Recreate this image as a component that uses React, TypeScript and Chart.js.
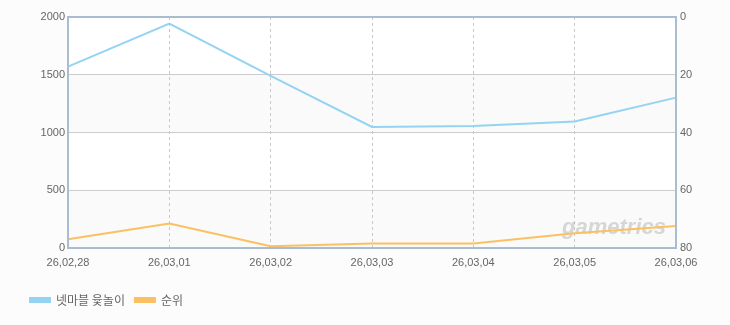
import React, { useEffect, useRef } from "react";
import { Chart, registerables } from "chart.js";

Chart.register(...registerables);

const categories = ["26,02,28", "26,03,01", "26,03,02", "26,03,03", "26,03,04", "26,03,05", "26,03,06"];
const popularity = [1570, 1942, 1490, 1048, 1057, 1095, 1302];
const rank = [77, 71.5, 79.4, 78.4, 78.4, 74.9, 72.4];
const leftTicks = [0, 500, 1000, 1500, 2000];
const rightTicks = [0, 20, 40, 60, 80];

const bgPlugin = {
  id: "bgPlugin",
  beforeDraw(chart: any) {
    const { ctx, width, height, chartArea } = chart;
    ctx.save();
    ctx.fillStyle = "#fcfcfc";
    ctx.fillRect(0, 0, width, height);
    const y = chart.scales.y;
    for (let i = 0; i < leftTicks.length - 1; i++) {
      const top = y.getPixelForValue(leftTicks[i + 1]);
      const bot = y.getPixelForValue(leftTicks[i]);
      ctx.fillStyle = i % 2 === 1 ? "#ffffff" : "#fafafa";
      if (i === leftTicks.length - 2) ctx.fillStyle = "#ffffff";
      ctx.fillRect(chartArea.left, top, chartArea.right - chartArea.left, bot - top);
    }
    ctx.restore();
  },
  beforeDatasetsDraw(chart: any) {
    const { ctx, chartArea } = chart;
    ctx.save();
    ctx.font = "italic bold 22px 'Liberation Sans'";
    ctx.fillStyle = "rgba(160,160,160,0.4)";
    ctx.textAlign = "right";
    ctx.textBaseline = "alphabetic";
    ctx.fillText("gametrics", chartArea.right - 10, chartArea.bottom - 14);
    ctx.restore();
  },
  afterDatasetsDraw(chart: any) {
    const { ctx, chartArea } = chart;
    ctx.save();
    ctx.strokeStyle = "#aabccf";
    ctx.lineWidth = 2;
    ctx.strokeRect(chartArea.left, chartArea.top, chartArea.right - chartArea.left, chartArea.bottom - chartArea.top);
    ctx.restore();
  },
};

export default function App() {
  const ref = useRef<HTMLCanvasElement>(null);
  useEffect(() => {
    if (!ref.current) return;
    const tickFont = { family: "'Liberation Sans', Arial, sans-serif", size: 11 };
    const chart = new Chart(ref.current, {
      type: "line",
      data: {
        labels: categories,
        datasets: [
          {
            label: "넷마블 윷놀이",
            data: popularity,
            borderColor: "#94d3f2",
            backgroundColor: "#94d3f2",
            borderWidth: 2,
            pointRadius: 0,
            tension: 0,
            yAxisID: "y",
          },
          {
            label: "순위",
            data: rank,
            borderColor: "#fbc062",
            backgroundColor: "#fbc062",
            borderWidth: 2,
            pointRadius: 0,
            tension: 0,
            yAxisID: "y1",
          },
        ],
      },
      options: {
        animation: false,
        responsive: false,
        layout: { padding: { left: 20, top: 17, right: 0, bottom: 9 } },
        plugins: {
          tooltip: { enabled: false },
          legend: {
            position: "bottom",
            align: "start",
            labels: {
              boxWidth: 20,
              boxHeight: 4,
              padding: 10,
              color: "#666",
              font: { family: "'Noto Sans CJK KR', sans-serif", size: 12 },
            },
          },
        },
        scales: {
          x: {
            type: "category",
            offset: false,
            grid: {
              color: "#c8c8c8",
              drawTicks: false,
            },
            border: { display: false, dash: [3, 3] },
            ticks: { color: "#666", font: tickFont, padding: 8, maxRotation: 0, autoSkip: false },
            afterFit(scale: any) {
              scale.height = 36;
            },
          },
          y: {
            position: "left",
            min: 0,
            max: 2000,
            ticks: {
              stepSize: 500,
              color: "#666",
              font: tickFont,
              padding: 3,
              callback: (v: any) => String(v),
            },
            grid: { color: "#cccccc", drawTicks: false },
            border: { display: false },
            afterFit(scale: any) {
              scale.width = 48;
            },
          },
          y1: {
            position: "right",
            reverse: true,
            min: 0,
            max: 80,
            afterBuildTicks(scale: any) {
              scale.ticks = rightTicks.map((v) => ({ value: v }));
            },
            ticks: { color: "#666", font: tickFont, padding: 4, callback: (v: any) => String(v) },
            grid: { display: false, drawTicks: false },
            border: { display: false },
            afterFit(scale: any) {
              scale.width = 54;
            },
          },
        },
      } as any,
      plugins: [bgPlugin],
    });
    return () => chart.destroy();
  }, []);
  return (
    <div style={{ position: "fixed", left: 0, top: 0, width: 730, height: 325 }}>
      <canvas ref={ref} width={730} height={325} style={{ display: "block" }} />
    </div>
  );
}
